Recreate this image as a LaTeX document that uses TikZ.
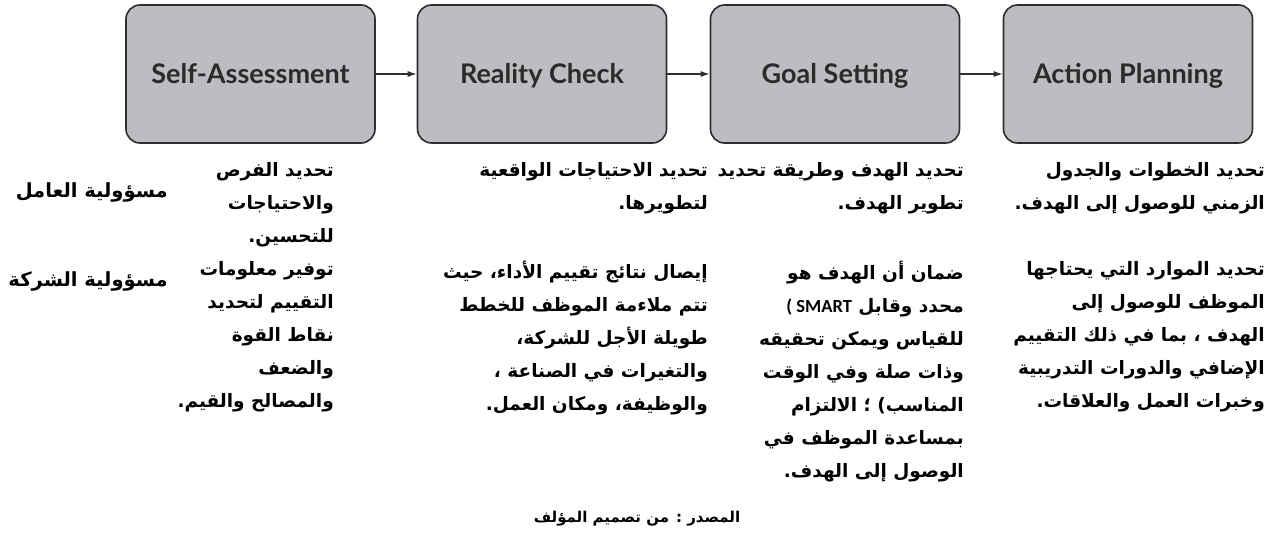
\documentclass[tikz,border=0pt]{standalone}
\usepackage{fontspec}
\usetikzlibrary{arrows.meta}
\TeXXeTstate=1
\newfontfamily\arfont[Script=Arabic]{DejaVu Sans}
\newfontfamily\latfont{Lato}
\newfontfamily\smartfont{Carlito}
\definecolor{boxfill}{HTML}{BCBDC1}
\definecolor{boxline}{HTML}{2E2E2E}
\definecolor{labtext}{HTML}{2B2B2B}
\newcommand{\RL}[1]{\beginR #1\endR}
\begin{document}
\begin{tikzpicture}[x=1pt,y=-1pt,
  stage/.style={draw=boxline, line width=1.6pt, fill=boxfill, rounded corners=14pt,
    minimum width=249pt, minimum height=138pt, inner sep=0pt,
    text height=19.5pt, text depth=0pt,
    font=\latfont\bfseries\fontsize{27}{31}\selectfont, text=labtext},
  link/.style={draw=boxline, line width=1.2pt, -{Latex[length=9pt,width=6pt]}},
  cell/.style={anchor=north east, align=right, inner sep=0pt,
    font=\arfont\bfseries\fontsize{18.5}{33}\selectfont},
  rowhead/.style={anchor=east, inner sep=0pt,
    font=\arfont\bfseries\fontsize{19.5}{24}\selectfont},
  source/.style={inner sep=0pt, font=\arfont\bfseries\fontsize{15}{18}\selectfont}]
\useasboundingbox (0,0) rectangle (1275,546);

\node[stage] (s1) at (250.5,74) {Self-Assessment};
\node[stage] (s2) at (542,74) {Reality Check};
\node[stage] (s3) at (835,74) {Goal Setting};
\node[stage] (s4) at (1128,74) {Action Planning};

\draw[link] (s1) -- (s2);
\draw[link] (s2) -- (s3);
\draw[link] (s3) -- (s4);

\node[rowhead] (h1) at (168,192) {\RL{مسؤولية العامل}};
\node[rowhead] (h2) at (168,281) {\RL{مسؤولية الشركة}};

\node[cell] (a1) at (334,162) {\RL{تحديد الفرص}\\ \RL{والاحتياجات}\\ \RL{للتحسين.}};
\node[cell] (b1) at (708,162) {\RL{تحديد الاحتياجات الواقعية}\\ \RL{لتطويرها.}};
\node[cell] (c1) at (964,162) {\RL{تحديد الهدف وطريقة تحديد}\\ \RL{تطوير الهدف.}};
\node[cell] (d1) at (1265,162) {\RL{تحديد الخطوات والجدول}\\ \RL{الزمني للوصول إلى الهدف.}};

\node[cell] (a2) at (334,261) {\RL{توفير معلومات}\\ \RL{التقييم لتحديد}\\ \RL{نقاط القوة}\\ \RL{والضعف}\\ \RL{والمصالح والقيم.}};
\node[cell] (b2) at (708,261) {\RL{إيصال نتائج  تقييم الأداء، حيث}\\ \RL{تتم ملاءمة الموظف للخطط}\\ \RL{طويلة الأجل للشركة،}\\ \RL{والتغيرات في الصناعة ،}\\ \RL{والوظيفة، ومكان العمل.}};
\node[cell] (c2) at (964,261) {\RL{ضمان أن الهدف هو}\\ {\smartfont\bfseries ( SMART} \RL{محدد وقابل}\\ \RL{للقياس ويمكن تحقيقه}\\ \RL{وذات صلة وفي الوقت}\\ \RL{المناسب) ؛ الالتزام}\\ \RL{بمساعدة الموظف في}\\ \RL{الوصول إلى الهدف.}};
\node[cell] (d2) at (1265,261) {\RL{تحديد الموارد التي يحتاجها}\\ \RL{الموظف للوصول إلى}\\ \RL{الهدف ، بما في ذلك التقييم}\\ \RL{الإضافي والدورات التدريبية}\\ \RL{وخبرات العمل والعلاقات.}};

\node[source] (src) at (637,519) {\RL{المصدر : من تصميم المؤلف}};
\end{tikzpicture}
\end{document}
